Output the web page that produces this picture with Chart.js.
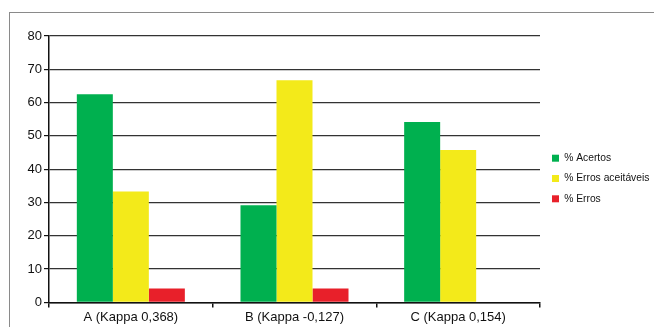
<!DOCTYPE html>
<html>
<head>
<meta charset="utf-8">
<script src="https://cdn.jsdelivr.net/npm/chart.js@4/dist/chart.umd.min.js"></script>
<style>
    html, body { margin: 0; padding: 0; background: #fff; }
    #wrap { position: relative; width: 654px; height: 327px; }
    #frame {
        position: absolute; left: 9px; top: 12px; right: 0; bottom: 0;
        border-left: 1.5px solid #8a8a8a; border-top: 1.5px solid #8a8a8a;
        pointer-events: none;
    }
    canvas { position: absolute; left: 0; top: 0; }
</style>
</head>
<body>
<div id="wrap">
    <canvas id="kappaChart" width="654" height="327"></canvas>
    <div id="frame"></div>
</div>
<script>
const categories = ['A (Kappa 0,368)', 'B (Kappa -0,127)', 'C (Kappa 0,154)'];
const acertos = [62.5, 29.2, 54.2];
const errosAceitaveis = [33.3, 66.7, 45.8];
const erros = [4.2, 4.2, 0];
const yTicks = [0, 10, 20, 30, 40, 50, 60, 70, 80];

const fontFamily = '"Liberation Sans", Arial, Helvetica, sans-serif';

// nudge the legend a little right and up, leaving a wider gap after the plot
const legendShift = {
    id: 'legendShift',
    afterLayout(chart) {
        const lg = chart.legend;
        if (!lg) return;
        lg.left += 2;
        lg.right += 2;
        lg.top -= 3;
        lg.bottom -= 3;
    }
};

document.addEventListener('DOMContentLoaded', function() {
    const ctx = document.getElementById('kappaChart');

    new Chart(ctx, {
        type: 'bar',
        data: {
            labels: categories,
            datasets: [
                { label: '% Acertos', data: acertos, backgroundColor: '#00b04f' },
                { label: '% Erros aceitáveis', data: errosAceitaveis, backgroundColor: '#f3ea1a' },
                { label: '% Erros', data: erros, backgroundColor: '#e8202a' }
            ]
        },
        plugins: [legendShift],
        options: {
            responsive: false,
            animation: false,
            layout: { padding: { top: 36, left: 0, right: 0, bottom: 0 } },
            datasets: {
                bar: { barPercentage: 1, categoryPercentage: 0.66 }
            },
            plugins: {
                legend: {
                    position: 'right',
                    maxWidth: 114,
                    labels: {
                        boxWidth: 7,
                        boxHeight: 7,
                        padding: 10,
                        color: '#111',
                        font: { family: fontFamily, size: 10.3 }
                    }
                },
                tooltip: { enabled: false }
            },
            scales: {
                x: {
                    grid: {
                        offset: true,
                        drawOnChartArea: false,
                        drawTicks: true,
                        tickLength: 5,
                        tickColor: '#111',
                        lineWidth: 1.5
                    },
                    border: { color: '#111', width: 1.5 },
                    ticks: {
                        color: '#111',
                        padding: 2,
                        font: { family: fontFamily, size: 13 }
                    }
                },
                y: {
                    min: 0,
                    max: 80,
                    afterFit: function(scale) { scale.width = 49; },
                    afterBuildTicks: function(scale) {
                        scale.ticks = yTicks.map(v => ({ value: v }));
                    },
                    grid: {
                        color: '#333',
                        lineWidth: 1.2,
                        tickLength: 5,
                        tickColor: '#111'
                    },
                    border: { color: '#111', width: 1.5 },
                    ticks: {
                        color: '#111',
                        padding: 2,
                        font: { family: fontFamily, size: 13 }
                    }
                }
            }
        }
    });
});
</script>
</body>
</html>
